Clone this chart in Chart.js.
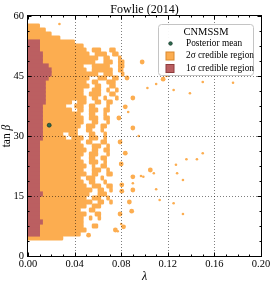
<!DOCTYPE html>
<html lang="en">
<head>
<meta charset="UTF-8">
<title>Fowlie (2014)</title>
<script src="https://cdn.jsdelivr.net/npm/chart.js@4.4.0/dist/chart.umd.min.js"></script>
<style>
  html, body { margin: 0; padding: 0; background: #fff; }
</style>
</head>
<body>
<canvas id="graphCanvas" width="274" height="285"></canvas>
<script>
// axis ticks
var xTicks = [0, 0.04, 0.08, 0.12, 0.16, 0.20];
var yTicks = [0, 15, 30, 45, 60];

// credible regions, one string per tanβ row (row k covers tanβ rowStart-k .. +1)
// each char is a lambda cell of width cellLambda: '.' outside, 'o' 2σ, 'r' 1σ (inside 2σ too)
var cellLambda = 0.0025;
var rowStart = 57;
var regionRows = [
  "oooo",                                   // 57
  "oooooo",
  "oooooooo",
  "ooooooooooo",
  "rrrroooooooooooo",                       // 53
  "rrrrooooooooooooooo",
  "rrrroooooooooooooooo..ooo...oo",
  "rrrrroooooooooooooooo..oooo..oo",        // 50
  "rrrrrooooooooooooooooooo..oo...o",
  "rrrrroooooooooooooooooo...ooo..oo",
  "rrrrrrroooooooooooo...oooooo...oo",
  "rrrrrrrroooooooooooo..ooooooo..o",
  "rrrrrrrroooooooooooooooo..ooo...o",      // 45
  "rrrrrrroooooooooooooo...ooo..oo",
  "rrrrrroooooooooooooo..oo...ooo",
  "rrrrrrooooooooooooooo..oo...oo",
  "rrrrrrooooooooooooo...ooo..o..o",
  "rrrrrrooooooooooooo..oooo...oo",         // 40
  "rrrrrroooooooooooooo..oo..o...o",
  "rrrrrrooooooooo..ooo...oo..oo",
  "rrrrroooooooo...ooo..oo....o",
  "rrrrroooooooooo..oo..ooo..oo",
  "rrrrrooooooooooooo...oo...o",            // 35
  "rrrrroooooooooooooo..ooo..oo",
  "rrrrroooooooooooooo...oo...o",
  "rrrrrooooooooooooo..ooo..oo",
  "rrrrroooooooooooo...oo...o",
  "rrrrrooooooo..ooo....oo...o",            // 30
  "rrrrroooooooo..oooo..ooo..o",
  "rrrroooooooooooooo..oo...oo",
  "rrrrooooooooooooooo...ooo..o",
  "rrrroooooooooooooooo..oo..oo",
  "rrrrooooooooooooooo..ooo...o",           // 25
  "rrrroooooooooooooo...oo..oo",
  "rrrrooooooooooooooo..ooo..o",
  "rrrroooooooooooooooo..o..oo",
  "rrrrooooooooooooooo...ooo..o",
  "rrrroooooooooooooooo..oo...oo",          // 20
  "rrrroooooooooooooo..ooo..o",
  "rrrrooooooooooooooo..oo...o",
  "rrrroooooooooooooooo..ooo..oo",
  "rrrroooooooooooooooooo..oo..o",
  "rrrrroooooooooooooooo...ooo",            // 15
  "rrrroooooooooooooooo..ooo..o",
  "rrrroooooooooooooooooo..oo..o",
  "rrrroooooooooooooooo..ooo",
  "rrrroooooooooooooo...oo",
  "rrrroooooooooooooooo...oo",              // 10
  "rrrrooooooooooooooo..o..o",
  "rrrrroooooooooooooo",
  "rrrrooooooooooooooo...oo",
  "rrrroooooooooooooooo",
  "rrrroooooooooooooo",                     // 5
  "oooooooooooo"                            // 4
];

// isolated 2σ islands outside the main body
var blobLambda = [0.098, 0.085, 0.080, 0.116, 0.119, 0.090, 0.0835, 0.078, 0.090, 0.079, 0.0835, 0.080,
                  0.0805, 0.0805, 0.087, 0.089, 0.079, 0.082, 0.075, 0.052, 0.090, 0.105, 0.090];
var blobTanb   = [48.5, 44.5, 46.5, 44.2, 45.3, 39.5, 37.3, 34.5, 32.0, 28.5, 25.7, 23.0,
                  17.8, 16.2, 13.5, 11.2, 10.5, 7.3, 6.5, 5.2, 19.8, 21.5, 16.5];
var dotLambda  = [0.027, 0.018, 0.150, 0.176, 0.125, 0.139, 0.1025, 0.110, 0.099, 0.108, 0.127, 0.128, 0.136, 0.145,
                  0.150, 0.133, 0.125, 0.133, 0.113, 0.110, 0.097, 0.080, 0.077, 0.090, 0.086, 0.095];
var dotTanb    = [58.0, 55.5, 43.5, 43.3, 41.5, 40.7, 42.0, 43.0, 19.8, 20.7, 22.8, 20.7, 24.2, 24.2,
                  25.7, 19.0, 13.2, 10.5, 14.0, 16.7, 20.0, 8.0, 6.2, 18.2, 36.0, 30.0];

// posterior mean
var meanLambda = [0.0182];
var meanTanb = [32.7];

var modelName = "CNMSSM";
var labels = ["Posterior mean", "2\u03c3 credible region", "1\u03c3 credible region"];

var orange = "#fcad50", orangeEdge = "#d9882c";
var red = "#bb5f61", redEdge = "#8e3c3e";
var green = "#2d6a4f";
var serif = '"Liberation Serif", "DejaVu Serif", serif';

// runs of cells -> floating horizontal bars (2σ runs first, 1σ runs after so they paint on top)
var band2 = [], band1 = [];
regionRows.forEach(function (row, k) {
  var t = rowStart - k + 0.5;
  var c = 0, e;
  while (c < row.length) {
    if (row[c] === '.') { c++; continue; }
    e = c; while (e < row.length && row[e] !== '.') e++;
    band2.push({ y: t, x: [c * cellLambda, e * cellLambda], lvl: 2 });
    c = e;
  }
  c = 0;
  while (c < row.length) {
    if (row[c] !== 'r') { c++; continue; }
    e = c; while (e < row.length && row[e] === 'r') e++;
    band1.push({ y: t, x: [c * cellLambda, e * cellLambda], lvl: 1 });
    c = e;
  }
});
var regionData = band2.concat(band1);

function pts(xs, ys) { return xs.map(function (v, i) { return { x: v, y: ys[i] }; }); }

// round the free ends of the 2σ runs a little so the cells read as blobs
function runRadius(ctx) {
  var raw = ctx.raw;
  if (!raw || raw.lvl === 1) return 0;
  if (raw.x[0] === 0) return { topLeft: 0, bottomLeft: 0, topRight: 1.4, bottomRight: 1.4 };
  return 1.4;
}

var decor = {
  id: 'decor',
  afterDraw: function (chart) {
    var ctx = chart.ctx, a = chart.chartArea;
    var xs = chart.scales.x, ys = chart.scales.y;
    ctx.save();
    // dotted grid on top of the regions
    ctx.strokeStyle = 'rgba(0,0,0,0.5)';
    ctx.lineWidth = 1;
    ctx.setLineDash([1, 2]);
    xTicks.forEach(function (v) {
      var p = Math.round(xs.getPixelForValue(v)) + 0.5;
      if (p < a.left + 2 || p > a.right - 2) return;
      ctx.beginPath(); ctx.moveTo(p, a.top); ctx.lineTo(p, a.bottom); ctx.stroke();
    });
    yTicks.forEach(function (v) {
      var p = Math.round(ys.getPixelForValue(v)) + 0.5;
      if (p < a.top + 2 || p > a.bottom - 2) return;
      ctx.beginPath(); ctx.moveTo(a.left, p); ctx.lineTo(a.right, p); ctx.stroke();
    });
    ctx.setLineDash([]);

    // frame and inward ticks on all sides
    ctx.strokeStyle = '#000';
    var L = a.left - 0.5, R = a.right + 0.5, T = a.top - 0.5, B = a.bottom + 0.5;
    ctx.strokeRect(L, T, R - L, B - T);
    ctx.beginPath();
    var v, p, len;
    for (v = 0; v <= 0.2001; v += 0.01) {
      p = Math.round(xs.getPixelForValue(v)) + 0.5;
      len = (Math.abs(v / 0.04 - Math.round(v / 0.04)) < 1e-6) ? 4 : 2;
      ctx.moveTo(p, B); ctx.lineTo(p, B - len);
      ctx.moveTo(p, T); ctx.lineTo(p, T + len);
    }
    for (v = 0; v <= 60.001; v += 3.75) {
      p = Math.round(ys.getPixelForValue(v)) + 0.5;
      len = (Math.abs(v / 15 - Math.round(v / 15)) < 1e-6) ? 4 : 2;
      ctx.moveTo(L, p); ctx.lineTo(L + len, p);
      ctx.moveTo(R, p); ctx.lineTo(R - len, p);
    }
    ctx.stroke();

    // legend
    var bx = 158.5, by = 24.5, bw = 95, bh = 51, r = 3;
    ctx.beginPath();
    ctx.moveTo(bx + r, by);
    ctx.arcTo(bx + bw, by, bx + bw, by + bh, r);
    ctx.arcTo(bx + bw, by + bh, bx, by + bh, r);
    ctx.arcTo(bx, by + bh, bx, by, r);
    ctx.arcTo(bx, by, bx + bw, by, r);
    ctx.closePath();
    ctx.fillStyle = 'rgba(255,255,255,0.95)';
    ctx.fill();
    ctx.strokeStyle = '#c4c4c4';
    ctx.stroke();

    ctx.fillStyle = '#000';
    ctx.textBaseline = 'middle';
    ctx.textAlign = 'center';
    ctx.font = '10.5px ' + serif;
    ctx.fillText(modelName, 206, 32);

    ctx.textAlign = 'left';
    ctx.font = '9.3px ' + serif;
    var rowsY = [43.5, 56, 68.5];
    ctx.beginPath();
    ctx.arc(170.5, rowsY[0], 1.8, 0, Math.PI * 2);
    ctx.fillStyle = green; ctx.fill();
    ctx.strokeStyle = '#143526'; ctx.lineWidth = 0.7; ctx.stroke();
    ctx.lineWidth = 1;
    ctx.fillStyle = orange; ctx.fillRect(166, rowsY[1] - 4, 8, 8);
    ctx.strokeStyle = orangeEdge; ctx.strokeRect(166, rowsY[1] - 4, 8, 8);
    ctx.fillStyle = red; ctx.fillRect(166, rowsY[2] - 4, 8, 8);
    ctx.strokeStyle = redEdge; ctx.strokeRect(166, rowsY[2] - 4, 8, 8);
    ctx.fillStyle = '#000';
    labels.forEach(function (s, i) { ctx.fillText(s, 186, rowsY[i]); });

    // title and axis labels
    ctx.textAlign = 'center';
    ctx.font = '12px ' + serif;
    ctx.fillText('Fowlie (2014)', (a.left + a.right) / 2, 9.5);
    ctx.font = 'italic 12px ' + serif;
    ctx.fillText('\u03bb', (a.left + a.right) / 2, 276.5);

    ctx.translate(7, (a.top + a.bottom) / 2);
    ctx.rotate(-Math.PI / 2);
    ctx.font = '11.5px ' + serif;
    var w1 = ctx.measureText('tan ').width;
    ctx.font = 'italic 11.5px ' + serif;
    var w2 = ctx.measureText('\u03b2').width;
    ctx.textAlign = 'left';
    ctx.font = '11.5px ' + serif;
    ctx.fillText('tan ', -(w1 + w2) / 2, 0);
    ctx.font = 'italic 11.5px ' + serif;
    ctx.fillText('\u03b2', -(w1 + w2) / 2 + w1, 0);
    ctx.restore();
  }
};

var tickFont = { family: serif, size: 10.5 };

new Chart(document.getElementById('graphCanvas'), {
  type: 'scatter',
  data: {
    datasets: [
      { label: labels[0], data: pts(meanLambda, meanTanb), order: 0,
        pointRadius: 2, backgroundColor: green, borderColor: '#143526', borderWidth: 0.7 },
      { label: 'islands', data: pts(blobLambda, blobTanb), order: 1,
        pointRadius: 2.4, backgroundColor: orange, borderWidth: 0 },
      { label: 'dots', data: pts(dotLambda, dotTanb), order: 2,
        pointRadius: 1.3, backgroundColor: orange, borderWidth: 0 },
      { type: 'bar', label: 'credible regions', data: regionData, indexAxis: 'y', order: 3,
        backgroundColor: function (ctx) { return ctx.raw && ctx.raw.lvl === 1 ? red : orange; },
        borderWidth: 0, barThickness: 4.5, borderSkipped: false, borderRadius: runRadius }
    ]
  },
  options: {
    responsive: false,
    animation: false,
    events: [],
    devicePixelRatio: 1,
    layout: { padding: { top: 16, right: 13, left: 0, bottom: 0 } },
    plugins: { legend: { display: false }, tooltip: { enabled: false }, title: { display: false } },
    scales: {
      x: {
        type: 'linear', min: 0, max: 0.2, offset: false,
        grid: { display: false, drawTicks: false, offset: false }, border: { display: false },
        afterBuildTicks: function (s) { s.ticks = xTicks.map(function (v) { return { value: v }; }); },
        afterFit: function (s) { s.height = 29; },
        ticks: { font: tickFont, color: '#000', padding: 2, maxRotation: 0, autoSkip: false,
                 callback: function (v) { return Number(v).toFixed(2); } }
      },
      y: {
        type: 'linear', min: 0, max: 60, offset: false,
        grid: { display: false, drawTicks: false, offset: false }, border: { display: false },
        afterBuildTicks: function (s) { s.ticks = yTicks.map(function (v) { return { value: v }; }); },
        afterFit: function (s) { s.width = 28; },
        ticks: { font: tickFont, color: '#000', padding: 4, autoSkip: false,
                 callback: function (v) { return String(v); } }
      }
    }
  },
  plugins: [decor]
});
</script>
</body>
</html>
